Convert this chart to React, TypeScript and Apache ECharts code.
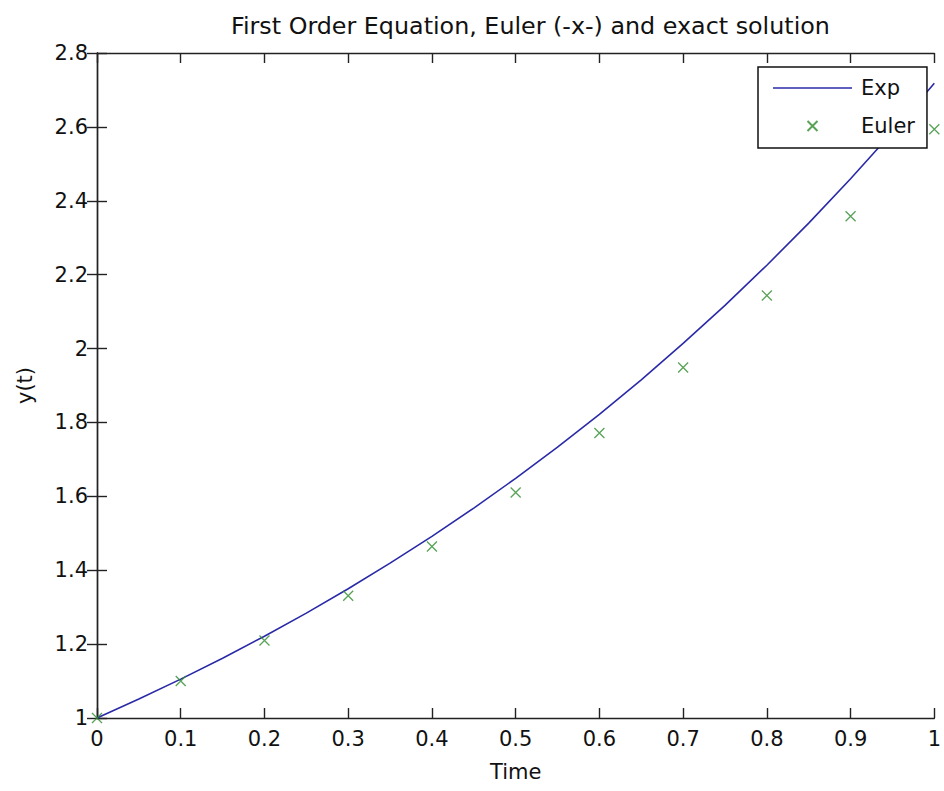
import React, { useEffect, useRef } from "react";
import * as echarts from "echarts";

const titleText = "First Order Equation, Euler (-x-) and exact solution";
const xName = "Time";
const yName = "y(t)";

// exact solution samples (t, y)
const expT = [0, 0.05, 0.1, 0.15, 0.2, 0.25, 0.3, 0.35, 0.4, 0.45, 0.5, 0.55, 0.6, 0.65, 0.7, 0.75, 0.8, 0.85, 0.9, 0.95, 1.0];
const expY = [1, 1.0513, 1.1052, 1.1618, 1.2214, 1.284, 1.3499, 1.4191, 1.4918, 1.5683, 1.6487, 1.7333, 1.8221, 1.9155, 2.0138, 2.117, 2.2255, 2.3396, 2.4596, 2.5857, 2.7183];

// Euler points
const eulerT = [0, 0.1, 0.2, 0.3, 0.4, 0.5, 0.6, 0.7, 0.8, 0.9, 1.0];
const eulerY = [1, 1.1, 1.21, 1.331, 1.4641, 1.6105, 1.7716, 1.9487, 2.1436, 2.3579, 2.5937];

const FONT = "DejaVu Sans";
const TXT = "#111";
const BLUE = "#2a2aa8";
const GREEN = "#2e8b2e";
const X_SYMBOL = "path://M0,0L10,10M10,0L0,10";
const LINE_ICON = "path://M0,0H79V1.6H0Z";

export default function App() {
  const ref = useRef<HTMLDivElement>(null);
  useEffect(() => {
    if (!ref.current) return;
    const chart = echarts.init(ref.current, null, { renderer: "svg" });
    const fmt = (v: number) => String(+v.toFixed(1));
    const axisLine = { show: true, lineStyle: { color: "#222", width: 1.4 } };
    const tick = { show: true, inside: true, length: 10, lineStyle: { color: "#222", width: 1.4 } };
    chart.setOption({
      animation: false,
      backgroundColor: "#fff",
      title: {
        text: titleText,
        left: 226,
        top: 9,
        textStyle: { fontFamily: FONT, fontSize: 23.8, fontWeight: "normal", color: TXT },
      },
      legend: {
        orient: "vertical",
        left: 758,
        top: 67,
        padding: [9, 12, 10, 15],
        itemWidth: 79,
        itemHeight: 10,
        itemGap: 14,
        borderColor: "#111",
        borderWidth: 1.5,
        borderRadius: 0,
        backgroundColor: "#fff",
        textStyle: { fontFamily: FONT, fontSize: 21, color: TXT, lineHeight: 24, padding: [0, 0, 0, 4] },
        data: [
          { name: "Exp", icon: LINE_ICON },
          { name: "Euler" },
        ],
      },
      grid: { left: 97, top: 53, width: 844, height: 665 },
      xAxis: [
        {
          type: "value",
          min: 0,
          max: 1,
          interval: 0.1,
          position: "bottom",
          name: xName,
          nameLocation: "middle",
          nameGap: 43,
          nameTextStyle: { fontFamily: FONT, fontSize: 21, color: TXT },
          axisLine,
          axisTick: tick,
          splitLine: { show: false },
          axisLabel: { formatter: fmt, fontFamily: FONT, fontSize: 21, color: TXT, margin: 10 },
        },
        {
          type: "value",
          min: 0,
          max: 1,
          interval: 0.1,
          position: "top",
          axisLine,
          axisTick: tick,
          splitLine: { show: false },
          axisLabel: { show: false },
        },
      ],
      yAxis: [
        {
          type: "value",
          min: 1,
          max: 2.8,
          interval: 0.2,
          position: "left",
          name: yName,
          nameLocation: "middle",
          nameGap: 62,
          nameTextStyle: { fontFamily: FONT, fontSize: 21, color: TXT },
          axisLine,
          axisTick: tick,
          splitLine: { show: false },
          axisLabel: { formatter: fmt, fontFamily: FONT, fontSize: 21, color: TXT, margin: 9 },
        },
        {
          type: "value",
          min: 1,
          max: 2.8,
          interval: 0.2,
          position: "right",
          axisLine,
          axisTick: tick,
          splitLine: { show: false },
          axisLabel: { show: false },
        },
      ],
      series: [
        {
          name: "Exp",
          type: "line",
          xAxisIndex: 0,
          yAxisIndex: 0,
          symbol: "none",
          smooth: false,
          lineStyle: { color: BLUE, width: 1.6 },
          itemStyle: { color: BLUE },
          data: expT.map((t, i) => [t, expY[i]]),
          z: 2,
        },
        {
          name: "Euler",
          type: "scatter",
          xAxisIndex: 0,
          yAxisIndex: 0,
          symbol: X_SYMBOL,
          symbolSize: 10,
          itemStyle: { color: GREEN, borderColor: GREEN, borderWidth: 1.3 },
          data: eulerT.map((t, i) => [t, eulerY[i]]),
          z: 3,
        },
      ],
    });
    return () => chart.dispose();
  }, []);
  return <div ref={ref} style={{ width: 944, height: 791, position: "absolute", left: 0, top: 0 }} />;
}
